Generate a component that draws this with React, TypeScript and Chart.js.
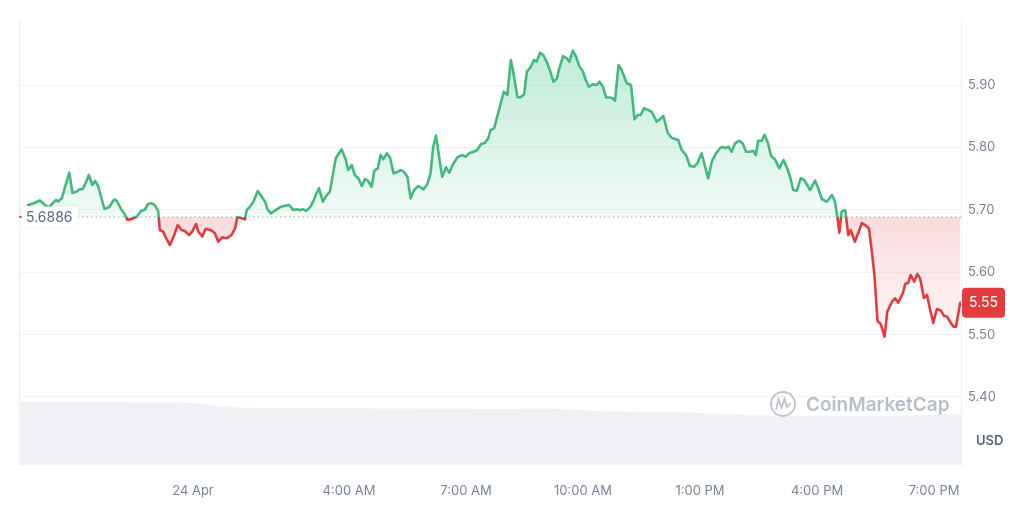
import React, { useEffect, useRef } from "react";
import { Chart, registerables } from "chart.js";

Chart.register(...registerables);

const FONT = "Inter, 'Noto Sans', sans-serif";
const GREEN = "#42b97d";
const RED = "#e23c3f";
const BASE = 5.6886;

// hours relative to 00:00, 24 Apr
const times = [
  -4.23, -4.10, -3.92, -3.85, -3.77, -3.67, -3.62, -3.51, -3.46, -3.36,
  -3.28, -3.17, -3.09, -2.98, -2.92, -2.83, -2.75, -2.67, -2.58, -2.51,
  -2.43, -2.27, -2.15, -2.02, -1.96, -1.83, -1.76, -1.68, -1.57, -1.44,
  -1.33, -1.23, -1.15, -1.06, -0.97, -0.89, -0.85, -0.76, -0.70, -0.59,
  -0.48, -0.39, -0.29, -0.21, -0.10, -0.02, 0.08, 0.14, 0.24, 0.32,
  0.46, 0.56, 0.65, 0.75, 0.86, 0.99, 1.08, 1.14, 1.23, 1.33,
  1.38, 1.46, 1.55, 1.66, 1.76, 1.85, 1.91, 2.00, 2.10, 2.23,
  2.33, 2.47, 2.57, 2.67, 2.74, 2.81, 2.90, 3.00, 3.08, 3.15,
  3.23, 3.33, 3.41, 3.51, 3.66, 3.81, 3.92, 3.98, 4.07, 4.15,
  4.24, 4.33, 4.41, 4.49, 4.58, 4.65, 4.74, 4.81, 4.88, 4.97,
  5.05, 5.14, 5.22, 5.33, 5.41, 5.50, 5.58, 5.67, 5.78, 5.91,
  6.01, 6.09, 6.16, 6.23, 6.31, 6.39, 6.49, 6.57, 6.67, 6.78,
  6.89, 6.99, 7.08, 7.19, 7.29, 7.38, 7.49, 7.57, 7.63, 7.72,
  7.80, 7.89, 7.97, 8.06, 8.15, 8.21, 8.32, 8.40, 8.49, 8.56,
  8.66, 8.74, 8.81, 8.90, 8.98, 9.07, 9.15, 9.24, 9.33, 9.39,
  9.49, 9.58, 9.65, 9.74, 9.82, 9.91, 9.99, 10.07, 10.15, 10.25,
  10.35, 10.42, 10.51, 10.59, 10.74, 10.82, 10.91, 10.99, 11.12, 11.23,
  11.32, 11.40, 11.48, 11.56, 11.67, 11.76, 11.89, 11.97, 12.06, 12.17,
  12.27, 12.44, 12.53, 12.64, 12.74, 12.85, 12.93, 13.04, 13.13, 13.21,
  13.30, 13.41, 13.51, 13.58, 13.64, 13.73, 13.81, 13.90, 14.00, 14.09,
  14.18, 14.28, 14.37, 14.43, 14.49, 14.58, 14.65, 14.74, 14.82, 14.92,
  15.03, 15.14, 15.24, 15.31, 15.39, 15.48, 15.58, 15.67, 15.82, 15.95,
  16.03, 16.12, 16.25, 16.38, 16.46, 16.52, 16.57, 16.63, 16.72, 16.80,
  16.86, 16.97, 17.15, 17.23, 17.33, 17.40, 17.47, 17.55, 17.63, 17.73,
  17.80, 17.92, 18.00, 18.08, 18.20, 18.26, 18.34, 18.40, 18.49, 18.57,
  18.64, 18.74, 18.82, 18.90, 18.98, 19.07, 19.17, 19.26, 19.33, 19.41,
  19.50, 19.56, 19.67,
];

const prices = [
  5.7077, 5.7101, 5.7149, 5.7109, 5.7061, 5.7045, 5.7093, 5.7157, 5.7133, 5.7189,
  5.7365, 5.7598, 5.7269, 5.7293, 5.7325, 5.7333, 5.7429, 5.7558, 5.7397, 5.7462,
  5.7381, 5.7013, 5.7045, 5.7165, 5.7149, 5.6997, 5.6941, 5.6837, 5.6853, 5.6893,
  5.6981, 5.7005, 5.7093, 5.7104, 5.7069, 5.6973, 5.6676, 5.6649, 5.6559, 5.6436,
  5.6596, 5.6756, 5.6676, 5.6660, 5.6596, 5.6649, 5.6772, 5.6649, 5.6572, 5.6692,
  5.6676, 5.6623, 5.6489, 5.6559, 5.6543, 5.6596, 5.6704, 5.6885, 5.6869, 5.6848,
  5.6997, 5.7050, 5.7130, 5.7301, 5.7210, 5.7130, 5.7008, 5.6944, 5.6986, 5.7040,
  5.7061, 5.7077, 5.6997, 5.7008, 5.6992, 5.7008, 5.6986, 5.7040, 5.7130, 5.7237,
  5.7345, 5.7130, 5.7221, 5.7290, 5.7825, 5.7970, 5.7798, 5.7638, 5.7718, 5.7558,
  5.7505, 5.7381, 5.7494, 5.7462, 5.7370, 5.7627, 5.7665, 5.7878, 5.7809, 5.7905,
  5.7841, 5.7585, 5.7601, 5.7638, 5.7606, 5.7526, 5.7184, 5.7317, 5.7381, 5.7328,
  5.7413, 5.7585, 5.8011, 5.8191, 5.7851, 5.7530, 5.7681, 5.7595, 5.7734, 5.7841,
  5.7878, 5.7851, 5.7905, 5.7931, 5.7958, 5.8050, 5.8075, 5.8146, 5.8279, 5.8306,
  5.8492, 5.8707, 5.8893, 5.8840, 5.9401, 5.9213, 5.8803, 5.8803, 5.8851, 5.9213,
  5.9293, 5.9401, 5.9373, 5.9518, 5.9481, 5.9373, 5.9240, 5.9053, 5.9107, 5.9268,
  5.9465, 5.9428, 5.9373, 5.9550, 5.9454, 5.9293, 5.9229, 5.9080, 5.8973, 5.9011,
  5.9000, 5.9053, 5.8973, 5.8803, 5.8796, 5.8748, 5.9321, 5.9240, 5.9027, 5.9000,
  5.8450, 5.8519, 5.8519, 5.8627, 5.8599, 5.8572, 5.8412, 5.8450, 5.8503, 5.8236,
  5.8155, 5.8119, 5.7958, 5.7878, 5.7702, 5.7691, 5.7745, 5.7905, 5.7691, 5.7505,
  5.7771, 5.7905, 5.7986, 5.8011, 5.7986, 5.8011, 5.7931, 5.8066, 5.8107, 5.8066,
  5.7931, 5.7931, 5.7942, 5.7878, 5.8107, 5.8107, 5.8199, 5.8075, 5.7862, 5.7809,
  5.7665, 5.7798, 5.7654, 5.7526, 5.7317, 5.7306, 5.7505, 5.7478, 5.7317, 5.7466,
  5.7345, 5.7173, 5.7130, 5.7237, 5.7130, 5.6889, 5.6633, 5.6970, 5.6997, 5.6596,
  5.6676, 5.6489, 5.6788, 5.6756, 5.6700, 5.6356, 5.5955, 5.5218, 5.5170, 5.4966,
  5.5367, 5.5527, 5.5582, 5.5511, 5.5662, 5.5811, 5.5832, 5.5955, 5.5848, 5.5971,
  5.5902, 5.5587, 5.5635, 5.5394, 5.5186, 5.5410, 5.5386, 5.5298, 5.5290, 5.5207,
  5.5127, 5.5127, 5.5511,
];

const volumeTimes = [-4.46, -2.4, -0.1, 0.45, 1.2, 2.7, 5.3, 7.9, 9.4, 10.4, 11.7, 13.0, 14.3, 15.6, 17.6, 18.9, 19.69];
const volumes = [63, 63, 62, 60, 57.5, 57, 56.5, 56, 56, 54, 53, 52, 50, 49, 49, 50, 51];

const xTickHours = [0, 4, 7, 10, 13, 16, 19];
const xTickLabels = ["24 Apr", "4:00 AM", "7:00 AM", "10:00 AM", "1:00 PM", "4:00 PM", "7:00 PM"];
const yTicks = [5.4, 5.5, 5.6, 5.7, 5.8, 5.9];

const X_MIN = -4.46;
const X_MAX = 19.69;
const Y_MIN = 5.291;
const Y_MAX = 6.0042;
const VOL_MAX = 445;

function rr(ctx: CanvasRenderingContext2D, x: number, y: number, w: number, h: number, r: number) {
  ctx.beginPath();
  ctx.moveTo(x + r, y);
  ctx.lineTo(x + w - r, y);
  ctx.quadraticCurveTo(x + w, y, x + w, y + r);
  ctx.lineTo(x + w, y + h - r);
  ctx.quadraticCurveTo(x + w, y + h, x + w - r, y + h);
  ctx.lineTo(x + r, y + h);
  ctx.quadraticCurveTo(x, y + h, x, y + h - r);
  ctx.lineTo(x, y + r);
  ctx.quadraticCurveTo(x, y, x + r, y);
  ctx.closePath();
}

const overlay = {
  id: "overlay",
  afterDatasetsDraw(chart: any) {
    const { ctx, chartArea, scales } = chart;
    const yB = scales.y.getPixelForValue(BASE);
    ctx.save();
    // watermark
    ctx.strokeStyle = "rgba(168,175,188,0.75)";
    ctx.lineWidth = 1.8;
    ctx.beginPath();
    ctx.arc(783, 404, 12, 0, Math.PI * 2);
    ctx.stroke();
    ctx.beginPath();
    ctx.moveTo(776, 410);
    ctx.lineTo(778.5, 399);
    ctx.lineTo(781.5, 408);
    ctx.lineTo(784.5, 399);
    ctx.lineTo(787, 407);
    ctx.lineTo(790.5, 403);
    ctx.stroke();
    let size = 18;
    ctx.font = `600 ${size}px ${FONT}`;
    const w = ctx.measureText("CoinMarketCap").width;
    size = (size * 152) / w;
    ctx.font = `600 ${Math.min(size, 19)}px ${FONT}`;
    ctx.fillStyle = "rgba(168,175,188,0.8)";
    ctx.textBaseline = "middle";
    ctx.textAlign = "left";
    ctx.fillText("CoinMarketCap", 806, 405);

    // baseline marker dot
    ctx.fillStyle = RED;
    ctx.beginPath();
    ctx.arc(chartArea.left + 1.5, yB, 1.2, 0, Math.PI * 2);
    ctx.fill();
    // baseline label
    ctx.shadowColor = "rgba(0,0,0,0.08)";
    ctx.shadowBlur = 4;
    ctx.fillStyle = "#ffffff";
    rr(ctx, chartArea.left + 3, yB - 10.5, 56, 21, 3);
    ctx.fill();
    ctx.shadowBlur = 0;
    ctx.shadowColor = "transparent";
    ctx.fillStyle = "#5d6a80";
    ctx.font = `14px ${FONT}`;
    ctx.textBaseline = "middle";
    ctx.fillText(BASE.toFixed(4), chartArea.left + 7, yB + 0.5);
    ctx.restore();
  },
  afterDraw(chart: any) {
    const { ctx, chartArea, scales } = chart;
    const last = prices[prices.length - 1];
    const yT = scales.y.getPixelForValue(last);
    ctx.save();
    ctx.fillStyle = RED;
    rr(ctx, chartArea.right + 1, yT - 15, 43, 30, 4);
    ctx.fill();
    ctx.fillStyle = "#ffffff";
    ctx.font = `14px ${FONT}`;
    ctx.textAlign = "center";
    ctx.textBaseline = "middle";
    ctx.fillText(last.toFixed(2), chartArea.right + 22.5, yT + 0.5);
    ctx.fillStyle = "#58667e";
    ctx.font = `600 13px ${FONT}`;
    ctx.textAlign = "left";
    ctx.fillText("USD", 976, 441);
    ctx.restore();
  },
};

export default function App() {
  const ref = useRef<HTMLCanvasElement>(null);
  useEffect(() => {
    const canvas = ref.current;
    if (!canvas) return;
    const priceData = times.map((t, i) => ({ x: t, y: prices[i] }));
    const volData = volumeTimes.map((t, i) => ({ x: t, y: volumes[i] }));
    const chart = new Chart(canvas, {
      type: "line",
      data: {
        datasets: [
          {
            data: priceData,
            yAxisID: "y",
            order: 1,
            borderWidth: 2.6,
            pointRadius: 0,
            tension: 0,
            borderJoinStyle: "round",
            borderCapStyle: "round",
            borderColor: (c: any) => {
              const ch = c.chart;
              const ca = ch.chartArea;
              if (!ca) return GREEN;
              const yb = ch.scales.y.getPixelForValue(BASE);
              const f = Math.min(1, Math.max(0, (yb - ca.top) / (ca.bottom - ca.top)));
              const g = ch.ctx.createLinearGradient(0, ca.top, 0, ca.bottom);
              g.addColorStop(0, GREEN);
              g.addColorStop(f, GREEN);
              g.addColorStop(f, RED);
              g.addColorStop(1, RED);
              return g;
            },
            fill: (c: any) => {
              const ch = c.chart;
              const ca = ch.chartArea;
              if (!ca) return { target: { value: BASE }, above: "rgba(22,199,132,0.15)", below: "rgba(234,57,67,0.12)" };
              const yb = ch.scales.y.getPixelForValue(BASE);
              const ga = ch.ctx.createLinearGradient(0, ca.top, 0, yb);
              ga.addColorStop(0, "rgba(40,190,120,0.34)");
              ga.addColorStop(1, "rgba(40,190,120,0.06)");
              const gb = ch.ctx.createLinearGradient(0, yb, 0, ch.scales.y.getPixelForValue(5.49));
              gb.addColorStop(0, "rgba(226,60,63,0.18)");
              gb.addColorStop(1, "rgba(226,60,63,0.04)");
              return { target: { value: BASE }, above: ga, below: gb };
            },
          } as any,
          {
            data: [
              { x: X_MIN, y: BASE },
              { x: X_MAX, y: BASE },
            ],
            yAxisID: "y",
            order: 2,
            borderColor: "#a3abb9",
            borderWidth: 1,
            borderDash: [1.5, 3],
            pointRadius: 0,
            fill: false,
          },
          {
            data: volData,
            yAxisID: "y1",
            order: 3,
            borderWidth: 0,
            borderColor: "rgba(0,0,0,0)",
            backgroundColor: "#eff1f4",
            pointRadius: 0,
            tension: 0.3,
            fill: "start",
          },
        ],
      },
      options: {
        responsive: false,
        animation: false,
        layout: { padding: { top: 20, left: 0, right: 0, bottom: 0 } },
        plugins: { legend: { display: false }, tooltip: { enabled: false } },
        scales: {
          x: {
            type: "linear",
            min: X_MIN,
            max: X_MAX,
            grid: { display: false, drawTicks: false },
            border: { display: false },
            afterBuildTicks: (axis: any) => {
              axis.ticks = xTickHours.map((v) => ({ value: v }));
            },
            afterFit: (axis: any) => {
              axis.height = 52;
            },
            ticks: {
              autoSkip: false,
              maxRotation: 0,
              padding: 18,
              color: "#7a8499",
              font: { family: FONT, size: 13 },
              callback: (v: any) => {
                const i = xTickHours.indexOf(Number(v));
                return i >= 0 ? xTickLabels[i] : "";
              },
            },
          },
          y: {
            position: "right",
            min: Y_MIN,
            max: Y_MAX,
            grid: { color: "#f1f2f4", drawTicks: false },
            border: { display: true, color: "#eceef1" },
            afterBuildTicks: (axis: any) => {
              axis.ticks = yTicks.map((v) => ({ value: v }));
            },
            afterFit: (axis: any) => {
              axis.width = 63;
            },
            ticks: {
              padding: 7,
              color: "#7a8499",
              font: { family: FONT, size: 13 },
              callback: (v: any) => Number(v).toFixed(2),
            },
          },
          y1: {
            position: "left",
            min: 0,
            max: VOL_MAX,
            grid: { display: false, drawTicks: false },
            border: { display: true, color: "#eceef1" },
            ticks: { display: false },
            afterFit: (axis: any) => {
              axis.width = 19;
            },
          },
        },
      } as any,
      plugins: [overlay],
    });
    return () => chart.destroy();
  }, []);
  return (
    <div style={{ position: "fixed", left: 0, top: 0, width: 1024, height: 517, background: "#fff" }}>
      <canvas ref={ref} width={1024} height={517} style={{ display: "block" }} />
    </div>
  );
}
